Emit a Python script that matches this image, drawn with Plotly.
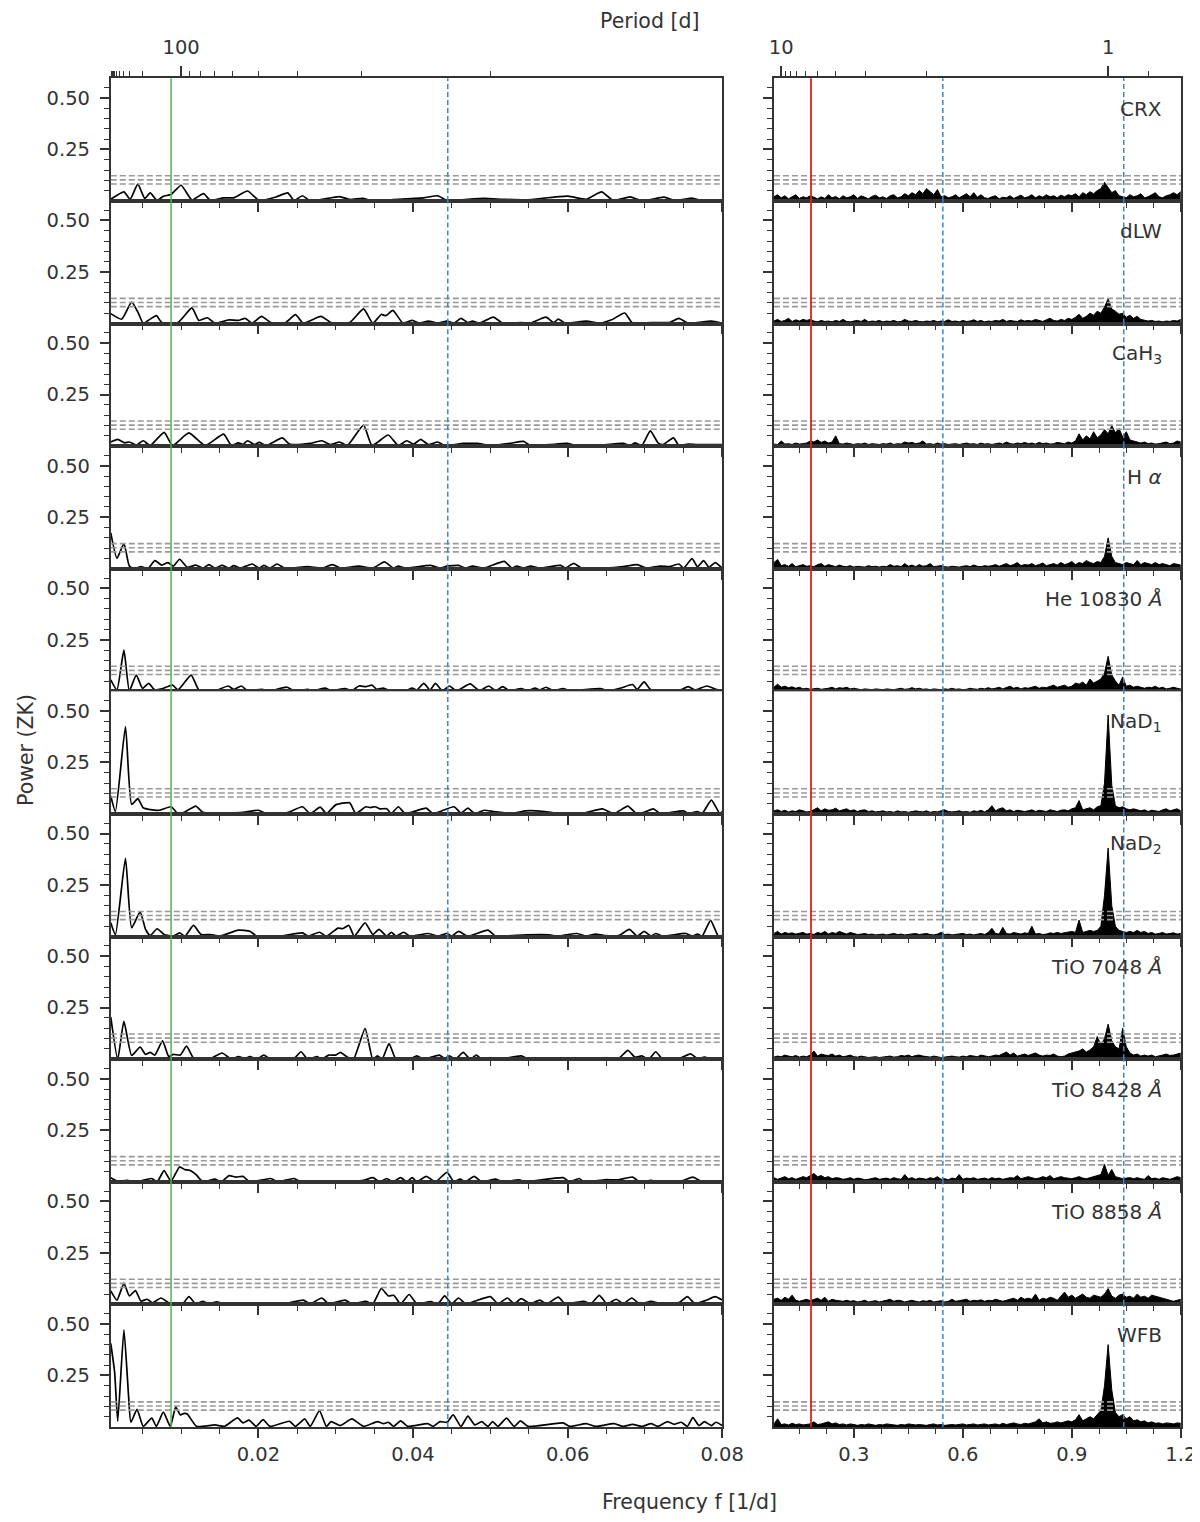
import numpy as np
import plotly.graph_objects as go

# ---------------- text / reference values ----------------
panel_labels = ["CRX", "dLW", "CaH<sub>3</sub>", "H <i>α</i>", "He 10830 <i>Å</i>",
                "NaD<sub>1</sub>", "NaD<sub>2</sub>", "TiO 7048 <i>Å</i>",
                "TiO 8428 <i>Å</i>", "TiO 8858 <i>Å</i>", "WFB"]
fap_levels = [0.082, 0.102, 0.122]
f_green = 0.0087
f_blue_left = 0.0445
f_red = 0.182
f_blue_right = [0.545, 1.043]
period_major_left = [100]
period_minor_left = [1000, 900, 800, 700, 600, 500, 400, 300, 200, 90, 80, 70, 60, 50, 40, 30, 20]
period_major_right = [10, 1]
period_minor_right = [9, 8, 7, 6, 5, 4, 3, 2, 0.9]

# ---------------- left column (long periods) ----------------
crx_f = [0.0009, 0.0026, 0.0034, 0.0044, 0.0053, 0.0060, 0.0069, 0.0077, 0.0087, 0.0100,
         0.0114, 0.0129, 0.0138, 0.0155, 0.0168, 0.0186, 0.0201, 0.0222, 0.0238, 0.0246,
         0.0257, 0.0267, 0.0305, 0.0318, 0.0335, 0.0348, 0.0390, 0.0414, 0.0432, 0.0444,
         0.0462, 0.0492, 0.0516, 0.0546, 0.0600, 0.0624, 0.0644, 0.0659, 0.0681, 0.0696,
         0.0725, 0.0738, 0.0762, 0.0774, 0.0800]
crx_p = [0.008, 0.044, 0.008, 0.081, 0.012, 0.039, 0.002, 0.023, 0.031, 0.076,
         0.005, 0.035, 0.002, 0.015, 0.015, 0.048, 0.002, 0.018, 0.039, 0.002,
         0.025, 0.000, 0.021, 0.007, 0.012, 0.000, 0.010, 0.015, 0.025, 0.002,
         0.005, 0.012, 0.008, 0.005, 0.023, 0.008, 0.044, 0.002, 0.020, 0.000,
         0.018, 0.002, 0.013, 0.000, 0.002]

dlw_f = [0.0009, 0.0023, 0.0036, 0.0045, 0.0051, 0.0068, 0.0075, 0.0096, 0.0114, 0.0123,
         0.0134, 0.0144, 0.0162, 0.0174, 0.0183, 0.0192, 0.0204, 0.0216, 0.0234, 0.0248,
         0.0258, 0.0281, 0.0294, 0.0318, 0.0336, 0.0348, 0.0359, 0.0365, 0.0374, 0.0387,
         0.0399, 0.0408, 0.0420, 0.0432, 0.0444, 0.0453, 0.0462, 0.0471, 0.0477, 0.0486,
         0.0504, 0.0516, 0.0540, 0.0552, 0.0572, 0.0582, 0.0588, 0.0597, 0.0624, 0.0642,
         0.0657, 0.0674, 0.0684, 0.0708, 0.0732, 0.0744, 0.0756, 0.0786, 0.0800]
dlw_p = [0.048, 0.021, 0.104, 0.048, 0.002, 0.038, 0.005, 0.005, 0.076, 0.015,
         0.028, 0.002, 0.018, 0.015, 0.025, 0.002, 0.035, 0.005, 0.002, 0.043,
         0.002, 0.035, 0.005, 0.005, 0.071, 0.002, 0.044, 0.038, 0.064, 0.002,
         0.015, 0.002, 0.012, 0.002, 0.012, 0.002, 0.025, 0.005, 0.012, 0.002,
         0.031, 0.002, 0.005, 0.002, 0.031, 0.005, 0.021, 0.002, 0.012, 0.002,
         0.018, 0.051, 0.002, 0.005, 0.005, 0.025, 0.002, 0.012, 0.002]

cah_f = [0.0009, 0.0018, 0.0027, 0.0033, 0.0042, 0.0051, 0.0060, 0.0078, 0.0089, 0.0110,
         0.0131, 0.0155, 0.0165, 0.0174, 0.0180, 0.0186, 0.0195, 0.0201, 0.0210, 0.0231,
         0.0240, 0.0252, 0.0267, 0.0282, 0.0293, 0.0305, 0.0315, 0.0336, 0.0347, 0.0368,
         0.0381, 0.0392, 0.0401, 0.0410, 0.0420, 0.0432, 0.0441, 0.0465, 0.0483, 0.0501,
         0.0525, 0.0543, 0.0552, 0.0576, 0.0599, 0.0612, 0.0640, 0.0672, 0.0681, 0.0687,
         0.0696, 0.0707, 0.0717, 0.0723, 0.0737, 0.0744, 0.0756, 0.0768, 0.0800]
cah_p = [0.020, 0.033, 0.016, 0.020, 0.005, 0.026, 0.003, 0.067, 0.003, 0.064,
         0.003, 0.058, 0.003, 0.016, 0.008, 0.026, 0.007, 0.018, 0.003, 0.040,
         0.010, 0.007, 0.013, 0.026, 0.007, 0.020, 0.003, 0.102, 0.003, 0.054,
         0.003, 0.026, 0.010, 0.033, 0.007, 0.020, 0.003, 0.013, 0.013, 0.003,
         0.013, 0.023, 0.003, 0.007, 0.013, 0.002, 0.004, 0.013, 0.003, 0.016,
         0.003, 0.074, 0.016, 0.007, 0.040, 0.003, 0.010, 0.007, 0.008]

ha_f = [0.0009, 0.0017, 0.0026, 0.0033, 0.0039, 0.0048, 0.0057, 0.0066, 0.0075, 0.0083,
        0.0090, 0.0098, 0.0108, 0.0119, 0.0128, 0.0136, 0.0144, 0.0153, 0.0162, 0.0168,
        0.0177, 0.0192, 0.0201, 0.0207, 0.0215, 0.0224, 0.0234, 0.0264, 0.0282, 0.0296,
        0.0306, 0.0330, 0.0348, 0.0363, 0.0375, 0.0381, 0.0390, 0.0423, 0.0435, 0.0444,
        0.0459, 0.0468, 0.0477, 0.0492, 0.0518, 0.0528, 0.0534, 0.0543, 0.0552, 0.0564,
        0.0591, 0.0597, 0.0608, 0.0618, 0.0648, 0.0672, 0.0690, 0.0702, 0.0720, 0.0732,
        0.0744, 0.0750, 0.0761, 0.0768, 0.0776, 0.0783, 0.0791, 0.0800]
ha_p = [0.174, 0.051, 0.122, 0.013, 0.000, 0.010, 0.000, 0.039, 0.018, 0.030,
        0.013, 0.046, 0.007, 0.018, 0.003, 0.020, 0.003, 0.016, 0.003, 0.015,
        0.003, 0.023, 0.003, 0.016, 0.003, 0.023, 0.003, 0.010, 0.003, 0.020,
        0.003, 0.013, 0.003, 0.033, 0.003, 0.013, 0.003, 0.016, 0.003, 0.013,
        0.016, 0.003, 0.013, 0.003, 0.036, 0.003, 0.013, 0.003, 0.013, 0.003,
        0.016, 0.003, 0.026, 0.003, 0.003, 0.010, 0.020, 0.003, 0.013, 0.010,
        0.023, 0.003, 0.049, 0.010, 0.039, 0.007, 0.030, 0.003]

he_f = [0.0009, 0.0017, 0.0026, 0.0033, 0.0042, 0.0050, 0.0058, 0.0066, 0.0075, 0.0089,
        0.0096, 0.0113, 0.0123, 0.0144, 0.0161, 0.0168, 0.0178, 0.0186, 0.0204, 0.0216,
        0.0237, 0.0246, 0.0264, 0.0270, 0.0287, 0.0294, 0.0312, 0.0321, 0.0330, 0.0339,
        0.0347, 0.0353, 0.0362, 0.0369, 0.0390, 0.0399, 0.0405, 0.0414, 0.0422, 0.0429,
        0.0438, 0.0447, 0.0456, 0.0474, 0.0486, 0.0498, 0.0507, 0.0516, 0.0525, 0.0540,
        0.0549, 0.0558, 0.0564, 0.0572, 0.0582, 0.0594, 0.0603, 0.0642, 0.0654, 0.0669,
        0.0684, 0.0690, 0.0699, 0.0708, 0.0732, 0.0744, 0.0756, 0.0765, 0.0780, 0.0792,
        0.0800]
he_p = [0.056, 0.007, 0.200, 0.003, 0.079, 0.015, 0.039, 0.007, 0.012, 0.030,
        0.007, 0.079, 0.007, 0.003, 0.026, 0.010, 0.026, 0.003, 0.010, 0.003,
        0.020, 0.003, 0.010, 0.003, 0.016, 0.003, 0.013, 0.003, 0.026, 0.023,
        0.030, 0.010, 0.016, 0.003, 0.003, 0.016, 0.007, 0.039, 0.007, 0.039,
        0.003, 0.026, 0.003, 0.036, 0.003, 0.026, 0.003, 0.023, 0.003, 0.013,
        0.003, 0.016, 0.007, 0.020, 0.003, 0.013, 0.003, 0.013, 0.003, 0.016,
        0.033, 0.010, 0.046, 0.007, 0.007, 0.003, 0.023, 0.007, 0.026, 0.010,
        0.003]

nad1_f = [0.0009, 0.0015, 0.0028, 0.0036, 0.0044, 0.0051, 0.0060, 0.0072, 0.0087, 0.0095,
          0.0104, 0.0119, 0.0128, 0.0144, 0.0162, 0.0180, 0.0200, 0.0210, 0.0228, 0.0239,
          0.0257, 0.0267, 0.0280, 0.0288, 0.0300, 0.0318, 0.0326, 0.0339, 0.0345, 0.0351,
          0.0357, 0.0366, 0.0372, 0.0381, 0.0390, 0.0417, 0.0426, 0.0453, 0.0462, 0.0471,
          0.0480, 0.0492, 0.0504, 0.0528, 0.0546, 0.0570, 0.0588, 0.0618, 0.0645, 0.0660,
          0.0678, 0.0689, 0.0699, 0.0711, 0.0720, 0.0750, 0.0756, 0.0768, 0.0774, 0.0786,
          0.0797, 0.0800]
nad1_p = [0.087, 0.012, 0.424, 0.046, 0.074, 0.030, 0.021, 0.018, 0.035, 0.005,
          0.008, 0.038, 0.008, 0.005, 0.005, 0.008, 0.018, 0.002, 0.002, 0.008,
          0.035, 0.002, 0.033, 0.002, 0.044, 0.054, 0.002, 0.035, 0.031, 0.035,
          0.025, 0.025, 0.002, 0.035, 0.002, 0.028, 0.002, 0.035, 0.005, 0.028,
          0.002, 0.018, 0.012, 0.002, 0.015, 0.012, 0.002, 0.002, 0.025, 0.002,
          0.038, 0.002, 0.008, 0.025, 0.002, 0.015, 0.002, 0.012, 0.002, 0.067,
          0.002, 0.012]

nad2_f = [0.0009, 0.0015, 0.0028, 0.0036, 0.0047, 0.0054, 0.0060, 0.0069, 0.0078, 0.0090,
          0.0098, 0.0105, 0.0116, 0.0126, 0.0138, 0.0150, 0.0174, 0.0189, 0.0198, 0.0228,
          0.0257, 0.0264, 0.0279, 0.0288, 0.0303, 0.0309, 0.0317, 0.0324, 0.0338, 0.0348,
          0.0356, 0.0366, 0.0372, 0.0378, 0.0388, 0.0396, 0.0420, 0.0432, 0.0444, 0.0450,
          0.0459, 0.0471, 0.0497, 0.0507, 0.0528, 0.0546, 0.0576, 0.0588, 0.0612, 0.0624,
          0.0636, 0.0648, 0.0666, 0.0680, 0.0690, 0.0699, 0.0708, 0.0714, 0.0723, 0.0753,
          0.0762, 0.0768, 0.0774, 0.0785, 0.0795, 0.0800]
nad2_p = [0.067, 0.010, 0.380, 0.043, 0.120, 0.035, 0.005, 0.038, 0.010, 0.002,
          0.018, 0.002, 0.054, 0.010, 0.010, 0.002, 0.031, 0.026, 0.002, 0.002,
          0.018, 0.002, 0.021, 0.002, 0.041, 0.038, 0.054, 0.002, 0.067, 0.010,
          0.035, 0.002, 0.021, 0.002, 0.021, 0.002, 0.015, 0.002, 0.015, 0.002,
          0.025, 0.002, 0.031, 0.002, 0.005, 0.008, 0.008, 0.002, 0.015, 0.002,
          0.012, 0.005, 0.005, 0.035, 0.002, 0.025, 0.002, 0.015, 0.002, 0.015,
          0.002, 0.012, 0.002, 0.079, 0.002, 0.005]

tio70_f = [0.0009, 0.0018, 0.0026, 0.0036, 0.0047, 0.0054, 0.0060, 0.0066, 0.0076, 0.0084,
           0.0090, 0.0099, 0.0107, 0.0117, 0.0138, 0.0153, 0.0165, 0.0174, 0.0183, 0.0189,
           0.0198, 0.0207, 0.0216, 0.0246, 0.0255, 0.0264, 0.0276, 0.0282, 0.0291, 0.0300,
           0.0306, 0.0315, 0.0323, 0.0338, 0.0348, 0.0354, 0.0360, 0.0369, 0.0378, 0.0396,
           0.0405, 0.0414, 0.0434, 0.0441, 0.0447, 0.0455, 0.0465, 0.0474, 0.0482, 0.0489,
           0.0516, 0.0540, 0.0549, 0.0573, 0.0588, 0.0648, 0.0666, 0.0678, 0.0687, 0.0696,
           0.0705, 0.0714, 0.0723, 0.0744, 0.0759, 0.0768, 0.0777, 0.0786, 0.0800]
tio70_p = [0.204, 0.000, 0.183, 0.018, 0.059, 0.023, 0.033, 0.020, 0.089, 0.013,
           0.023, 0.020, 0.063, 0.000, 0.003, 0.030, 0.000, 0.013, 0.003, 0.013,
           0.000, 0.020, 0.000, 0.003, 0.036, 0.000, 0.013, 0.000, 0.020, 0.020,
           0.033, 0.010, 0.000, 0.148, 0.000, 0.016, 0.000, 0.076, 0.000, 0.000,
           0.016, 0.000, 0.020, 0.003, 0.016, 0.000, 0.033, 0.000, 0.020, 0.000,
           0.003, 0.016, 0.000, 0.003, 0.000, 0.000, 0.003, 0.043, 0.010, 0.016,
           0.000, 0.036, 0.000, 0.003, 0.026, 0.003, 0.010, 0.000, 0.003]

tio84_f = [0.0009, 0.0018, 0.0030, 0.0042, 0.0062, 0.0069, 0.0078, 0.0087, 0.0098, 0.0105,
           0.0111, 0.0119, 0.0128, 0.0144, 0.0152, 0.0162, 0.0171, 0.0180, 0.0189, 0.0216,
           0.0225, 0.0246, 0.0255, 0.0288, 0.0336, 0.0348, 0.0357, 0.0366, 0.0374, 0.0384,
           0.0392, 0.0399, 0.0405, 0.0417, 0.0429, 0.0444, 0.0453, 0.0461, 0.0468, 0.0479,
           0.0489, 0.0507, 0.0516, 0.0537, 0.0546, 0.0594, 0.0603, 0.0615, 0.0621, 0.0648,
           0.0666, 0.0684, 0.0693, 0.0708, 0.0717, 0.0747, 0.0762, 0.0774, 0.0800]
tio84_p = [0.020, 0.003, 0.007, 0.000, 0.016, 0.000, 0.054, 0.003, 0.072, 0.059,
           0.056, 0.036, 0.000, 0.013, 0.000, 0.030, 0.023, 0.026, 0.000, 0.016,
           0.000, 0.016, 0.000, 0.000, 0.007, 0.020, 0.000, 0.016, 0.000, 0.020,
           0.000, 0.020, 0.000, 0.026, 0.000, 0.046, 0.000, 0.013, 0.000, 0.026,
           0.000, 0.013, 0.000, 0.010, 0.000, 0.020, 0.000, 0.016, 0.000, 0.010,
           0.010, 0.023, 0.000, 0.007, 0.000, 0.003, 0.023, 0.000, 0.000]

tio88_f = [0.0009, 0.0017, 0.0026, 0.0033, 0.0041, 0.0048, 0.0056, 0.0063, 0.0074, 0.0084,
           0.0102, 0.0110, 0.0119, 0.0128, 0.0135, 0.0146, 0.0156, 0.0192, 0.0210, 0.0234,
           0.0258, 0.0267, 0.0282, 0.0291, 0.0312, 0.0321, 0.0339, 0.0348, 0.0359, 0.0368,
           0.0375, 0.0384, 0.0395, 0.0405, 0.0423, 0.0432, 0.0441, 0.0450, 0.0459, 0.0468,
           0.0500, 0.0510, 0.0522, 0.0531, 0.0540, 0.0552, 0.0564, 0.0573, 0.0588, 0.0597,
           0.0621, 0.0630, 0.0641, 0.0651, 0.0663, 0.0672, 0.0683, 0.0693, 0.0708, 0.0720,
           0.0735, 0.0745, 0.0755, 0.0765, 0.0780, 0.0791, 0.0800]
tio88_p = [0.066, 0.021, 0.102, 0.041, 0.067, 0.016, 0.025, 0.008, 0.031, 0.008,
           0.003, 0.038, 0.003, 0.015, 0.003, 0.012, 0.003, 0.008, 0.003, 0.003,
           0.021, 0.003, 0.031, 0.003, 0.021, 0.003, 0.015, 0.003, 0.077, 0.041,
           0.044, 0.003, 0.048, 0.003, 0.013, 0.003, 0.041, 0.003, 0.031, 0.003,
           0.038, 0.003, 0.031, 0.003, 0.028, 0.003, 0.021, 0.003, 0.035, 0.003,
           0.015, 0.003, 0.044, 0.003, 0.025, 0.003, 0.031, 0.003, 0.015, 0.003,
           0.003, 0.010, 0.038, 0.003, 0.021, 0.038, 0.021]

wfb_f = [0.0009, 0.0014, 0.0018, 0.0026, 0.0032, 0.0035, 0.0043, 0.0051, 0.0062, 0.0068,
         0.0077, 0.0086, 0.0093, 0.0099, 0.0104, 0.0108, 0.0120, 0.0144, 0.0156, 0.0173,
         0.0180, 0.0188, 0.0197, 0.0206, 0.0215, 0.0240, 0.0248, 0.0260, 0.0267, 0.0279,
         0.0288, 0.0294, 0.0306, 0.0321, 0.0336, 0.0354, 0.0362, 0.0368, 0.0375, 0.0384,
         0.0393, 0.0419, 0.0426, 0.0435, 0.0444, 0.0452, 0.0462, 0.0471, 0.0480, 0.0489,
         0.0497, 0.0503, 0.0510, 0.0521, 0.0531, 0.0539, 0.0549, 0.0594, 0.0603, 0.0624,
         0.0636, 0.0660, 0.0672, 0.0684, 0.0696, 0.0708, 0.0717, 0.0729, 0.0738, 0.0747,
         0.0755, 0.0762, 0.0770, 0.0777, 0.0786, 0.0792, 0.0800]
wfb_p = [0.406, 0.266, 0.028, 0.472, 0.151, 0.023, 0.086, 0.003, 0.043, 0.003,
         0.072, 0.003, 0.097, 0.059, 0.066, 0.063, 0.003, 0.010, 0.003, 0.044,
         0.020, 0.033, 0.003, 0.036, 0.003, 0.028, 0.003, 0.039, 0.003, 0.079,
         0.003, 0.026, 0.007, 0.039, 0.003, 0.026, 0.016, 0.023, 0.003, 0.030,
         0.003, 0.016, 0.003, 0.026, 0.023, 0.059, 0.003, 0.053, 0.010, 0.026,
         0.003, 0.026, 0.003, 0.043, 0.003, 0.030, 0.003, 0.020, 0.003, 0.016,
         0.003, 0.016, 0.003, 0.013, 0.003, 0.016, 0.003, 0.026, 0.013, 0.023,
         0.003, 0.046, 0.007, 0.026, 0.007, 0.023, 0.007]

# ---------------- right column (short periods), grid 0.08 ... 1.20 step 0.01 ----------------
f_right = np.round(np.arange(0.08, 1.2001, 0.01), 2)

crx_r = [0.020, 0.030, 0.015, 0.025, 0.010, 0.020, 0.030, 0.012, 0.020, 0.015,
         0.025, 0.018, 0.010, 0.020, 0.012, 0.030, 0.015, 0.022, 0.010, 0.025,
         0.015, 0.020, 0.030, 0.012, 0.025, 0.018, 0.010, 0.022, 0.028, 0.015,
         0.020, 0.012, 0.025, 0.030, 0.015, 0.020, 0.035, 0.025, 0.040, 0.030,
         0.050, 0.035, 0.060, 0.045, 0.030, 0.055, 0.020, 0.025, 0.015, 0.020,
         0.030, 0.015, 0.025, 0.035, 0.020, 0.040, 0.018, 0.030, 0.015, 0.012,
         0.020, 0.025, 0.010, 0.018, 0.015, 0.025, 0.012, 0.020, 0.028, 0.015,
         0.020, 0.030, 0.015, 0.025, 0.018, 0.030, 0.020, 0.025, 0.015, 0.028,
         0.020, 0.030, 0.025, 0.035, 0.020, 0.040, 0.030, 0.045, 0.035, 0.050,
         0.060, 0.090, 0.065, 0.040, 0.050, 0.025, 0.020, 0.015, 0.030, 0.020,
         0.025, 0.035, 0.015, 0.020, 0.030, 0.040, 0.020, 0.015, 0.025, 0.030,
         0.040, 0.030, 0.045]
dlw_r = [0.012, 0.020, 0.010, 0.015, 0.025, 0.010, 0.018, 0.012, 0.020, 0.015,
         0.020, 0.012, 0.008, 0.015, 0.010, 0.012, 0.008, 0.015, 0.010, 0.020,
         0.010, 0.008, 0.012, 0.015, 0.010, 0.020, 0.008, 0.012, 0.010, 0.015,
         0.008, 0.012, 0.010, 0.015, 0.008, 0.010, 0.020, 0.012, 0.010, 0.015,
         0.010, 0.008, 0.012, 0.010, 0.015, 0.008, 0.012, 0.010, 0.018, 0.010,
         0.012, 0.008, 0.015, 0.010, 0.012, 0.018, 0.010, 0.015, 0.008, 0.012,
         0.010, 0.015, 0.012, 0.020, 0.010, 0.015, 0.012, 0.010, 0.018, 0.012,
         0.015, 0.012, 0.020, 0.015, 0.010, 0.018, 0.025, 0.015, 0.012, 0.020,
         0.015, 0.025, 0.020, 0.030, 0.045, 0.025, 0.035, 0.050, 0.040, 0.060,
         0.050, 0.080, 0.120, 0.070, 0.060, 0.045, 0.050, 0.030, 0.040, 0.025,
         0.035, 0.020, 0.015, 0.012, 0.015, 0.010, 0.012, 0.008, 0.012, 0.010,
         0.015, 0.012, 0.020]
cah_r = [0.010, 0.008, 0.025, 0.010, 0.012, 0.008, 0.015, 0.010, 0.012, 0.015,
         0.025, 0.020, 0.030, 0.018, 0.025, 0.015, 0.020, 0.050, 0.012, 0.010,
         0.015, 0.010, 0.008, 0.012, 0.010, 0.015, 0.008, 0.012, 0.010, 0.008,
         0.012, 0.010, 0.015, 0.008, 0.012, 0.010, 0.020, 0.015, 0.018, 0.012,
         0.015, 0.025, 0.010, 0.012, 0.008, 0.015, 0.010, 0.012, 0.008, 0.010,
         0.012, 0.008, 0.010, 0.015, 0.010, 0.012, 0.008, 0.015, 0.010, 0.012,
         0.008, 0.012, 0.015, 0.010, 0.020, 0.012, 0.010, 0.015, 0.012, 0.018,
         0.012, 0.015, 0.010, 0.018, 0.012, 0.015, 0.010, 0.012, 0.018, 0.015,
         0.012, 0.020, 0.015, 0.025, 0.060, 0.030, 0.050, 0.035, 0.070, 0.040,
         0.055, 0.080, 0.060, 0.100, 0.065, 0.085, 0.045, 0.070, 0.030, 0.025,
         0.020, 0.015, 0.020, 0.012, 0.015, 0.010, 0.012, 0.015, 0.020, 0.012,
         0.015, 0.025, 0.020]
ha_r = [0.030, 0.045, 0.015, 0.020, 0.012, 0.025, 0.010, 0.015, 0.020, 0.012,
        0.015, 0.010, 0.020, 0.025, 0.012, 0.020, 0.015, 0.010, 0.018, 0.012,
        0.010, 0.015, 0.008, 0.012, 0.010, 0.008, 0.015, 0.010, 0.012, 0.008,
        0.012, 0.010, 0.020, 0.012, 0.015, 0.010, 0.025, 0.012, 0.018, 0.010,
        0.020, 0.012, 0.015, 0.025, 0.010, 0.012, 0.015, 0.010, 0.008, 0.012,
        0.010, 0.008, 0.012, 0.015, 0.010, 0.018, 0.012, 0.010, 0.015, 0.012,
        0.015, 0.020, 0.012, 0.018, 0.025, 0.015, 0.020, 0.030, 0.015, 0.020,
        0.018, 0.025, 0.015, 0.020, 0.028, 0.015, 0.020, 0.025, 0.018, 0.030,
        0.020, 0.025, 0.035, 0.020, 0.030, 0.025, 0.040, 0.030, 0.025, 0.035,
        0.030, 0.060, 0.150, 0.060, 0.030, 0.025, 0.020, 0.030, 0.025, 0.020,
        0.040, 0.020, 0.030, 0.025, 0.020, 0.030, 0.020, 0.025, 0.020, 0.015,
        0.025, 0.020, 0.018]
he_r = [0.020, 0.035, 0.020, 0.025, 0.018, 0.022, 0.015, 0.020, 0.012, 0.015,
        0.010, 0.012, 0.015, 0.010, 0.012, 0.015, 0.020, 0.012, 0.018, 0.015,
        0.020, 0.012, 0.015, 0.010, 0.008, 0.012, 0.010, 0.008, 0.012, 0.010,
        0.008, 0.012, 0.010, 0.008, 0.012, 0.015, 0.010, 0.012, 0.018, 0.012,
        0.015, 0.010, 0.012, 0.008, 0.012, 0.010, 0.008, 0.012, 0.010, 0.015,
        0.010, 0.012, 0.008, 0.010, 0.015, 0.012, 0.010, 0.015, 0.012, 0.018,
        0.012, 0.015, 0.020, 0.012, 0.018, 0.025, 0.015, 0.020, 0.012, 0.018,
        0.015, 0.020, 0.025, 0.015, 0.020, 0.018, 0.025, 0.030, 0.020, 0.025,
        0.030, 0.020, 0.025, 0.040, 0.035, 0.045, 0.030, 0.060, 0.040, 0.050,
        0.060, 0.090, 0.170, 0.080, 0.050, 0.030, 0.070, 0.025, 0.030, 0.020,
        0.025, 0.020, 0.015, 0.020, 0.018, 0.025, 0.015, 0.020, 0.012, 0.015,
        0.020, 0.015, 0.012]
nad1_r = [0.015, 0.020, 0.012, 0.018, 0.010, 0.015, 0.012, 0.020, 0.015, 0.010,
          0.012, 0.020, 0.030, 0.015, 0.025, 0.018, 0.020, 0.028, 0.015, 0.020,
          0.025, 0.015, 0.020, 0.012, 0.018, 0.020, 0.012, 0.015, 0.010, 0.012,
          0.015, 0.010, 0.012, 0.008, 0.015, 0.010, 0.012, 0.008, 0.010, 0.015,
          0.012, 0.010, 0.015, 0.008, 0.012, 0.010, 0.015, 0.020, 0.012, 0.010,
          0.012, 0.015, 0.010, 0.012, 0.008, 0.015, 0.012, 0.018, 0.010, 0.020,
          0.040, 0.015, 0.025, 0.030, 0.015, 0.020, 0.012, 0.018, 0.015, 0.012,
          0.015, 0.020, 0.012, 0.018, 0.015, 0.012, 0.020, 0.015, 0.012, 0.018,
          0.020, 0.015, 0.025, 0.030, 0.065, 0.020, 0.025, 0.030, 0.020, 0.035,
          0.040, 0.150, 0.480, 0.140, 0.040, 0.030, 0.035, 0.025, 0.020, 0.025,
          0.020, 0.015, 0.020, 0.012, 0.018, 0.015, 0.012, 0.020, 0.025, 0.015,
          0.020, 0.025, 0.015]
nad2_r = [0.015, 0.025, 0.012, 0.020, 0.015, 0.018, 0.012, 0.015, 0.020, 0.012,
          0.015, 0.010, 0.020, 0.015, 0.025, 0.012, 0.020, 0.015, 0.025, 0.018,
          0.012, 0.020, 0.015, 0.010, 0.012, 0.015, 0.010, 0.012, 0.008, 0.010,
          0.012, 0.008, 0.010, 0.015, 0.010, 0.012, 0.008, 0.010, 0.012, 0.015,
          0.010, 0.012, 0.015, 0.010, 0.008, 0.012, 0.020, 0.010, 0.012, 0.008,
          0.010, 0.012, 0.015, 0.010, 0.012, 0.008, 0.012, 0.015, 0.010, 0.020,
          0.040, 0.015, 0.012, 0.045, 0.015, 0.012, 0.020, 0.015, 0.012, 0.018,
          0.015, 0.050, 0.012, 0.015, 0.010, 0.012, 0.018, 0.015, 0.020, 0.015,
          0.018, 0.020, 0.025, 0.020, 0.080, 0.020, 0.025, 0.030, 0.025, 0.030,
          0.050, 0.200, 0.430, 0.150, 0.050, 0.030, 0.025, 0.020, 0.025, 0.020,
          0.030, 0.020, 0.025, 0.015, 0.020, 0.012, 0.015, 0.020, 0.012, 0.015,
          0.018, 0.012, 0.015]
tio70_r = [0.010, 0.015, 0.012, 0.020, 0.015, 0.012, 0.018, 0.010, 0.015, 0.012,
           0.020, 0.040, 0.015, 0.025, 0.020, 0.018, 0.025, 0.015, 0.020, 0.012,
           0.015, 0.020, 0.012, 0.010, 0.015, 0.012, 0.008, 0.010, 0.012, 0.008,
           0.010, 0.012, 0.015, 0.010, 0.012, 0.018, 0.015, 0.020, 0.012, 0.018,
           0.020, 0.015, 0.012, 0.010, 0.015, 0.012, 0.008, 0.010, 0.012, 0.015,
           0.012, 0.010, 0.015, 0.012, 0.018, 0.015, 0.012, 0.020, 0.015, 0.012,
           0.015, 0.020, 0.018, 0.025, 0.035, 0.020, 0.030, 0.015, 0.020, 0.025,
           0.018, 0.025, 0.030, 0.020, 0.015, 0.020, 0.018, 0.025, 0.015, 0.012,
           0.015, 0.025, 0.030, 0.035, 0.040, 0.050, 0.035, 0.045, 0.060, 0.110,
           0.070, 0.100, 0.170, 0.090, 0.060, 0.050, 0.150, 0.060, 0.030, 0.020,
           0.025, 0.015, 0.020, 0.015, 0.020, 0.012, 0.015, 0.020, 0.025, 0.018,
           0.020, 0.025, 0.030]
tio84_r = [0.020, 0.012, 0.018, 0.025, 0.015, 0.020, 0.012, 0.018, 0.025, 0.020,
           0.030, 0.040, 0.025, 0.030, 0.020, 0.025, 0.015, 0.020, 0.018, 0.012,
           0.015, 0.020, 0.012, 0.018, 0.015, 0.010, 0.012, 0.015, 0.020, 0.012,
           0.015, 0.018, 0.012, 0.020, 0.015, 0.012, 0.035, 0.015, 0.020, 0.012,
           0.018, 0.015, 0.012, 0.020, 0.015, 0.025, 0.012, 0.015, 0.010, 0.018,
           0.015, 0.035, 0.012, 0.018, 0.015, 0.020, 0.012, 0.015, 0.018, 0.012,
           0.020, 0.015, 0.018, 0.012, 0.015, 0.020, 0.018, 0.030, 0.015, 0.020,
           0.025, 0.020, 0.015, 0.018, 0.025, 0.020, 0.030, 0.015, 0.020, 0.025,
           0.020, 0.018, 0.015, 0.020, 0.025, 0.018, 0.015, 0.020, 0.025, 0.030,
           0.035, 0.085, 0.030, 0.060, 0.025, 0.020, 0.015, 0.018, 0.020, 0.015,
           0.020, 0.015, 0.012, 0.030, 0.015, 0.018, 0.012, 0.020, 0.015, 0.012,
           0.018, 0.025, 0.020]
tio88_r = [0.025, 0.030, 0.020, 0.035, 0.025, 0.045, 0.020, 0.015, 0.020, 0.025,
           0.018, 0.025, 0.030, 0.020, 0.035, 0.015, 0.025, 0.020, 0.018, 0.015,
           0.020, 0.015, 0.018, 0.012, 0.015, 0.020, 0.012, 0.015, 0.018, 0.012,
           0.015, 0.020, 0.025, 0.015, 0.020, 0.018, 0.012, 0.015, 0.020, 0.015,
           0.012, 0.018, 0.015, 0.020, 0.012, 0.015, 0.018, 0.012, 0.015, 0.025,
           0.015, 0.018, 0.020, 0.025, 0.015, 0.020, 0.018, 0.022, 0.015, 0.020,
           0.018, 0.025, 0.020, 0.015, 0.020, 0.025, 0.030, 0.020, 0.035, 0.025,
           0.030, 0.025, 0.050, 0.020, 0.030, 0.025, 0.035, 0.030, 0.020, 0.040,
           0.060, 0.035, 0.045, 0.030, 0.040, 0.050, 0.035, 0.030, 0.045, 0.040,
           0.035, 0.050, 0.077, 0.040, 0.030, 0.045, 0.050, 0.035, 0.040, 0.030,
           0.050, 0.035, 0.040, 0.030, 0.045, 0.040, 0.035, 0.030, 0.025, 0.020,
           0.015, 0.020, 0.025]
wfb_r = [0.015, 0.040, 0.012, 0.015, 0.010, 0.018, 0.012, 0.015, 0.010, 0.012,
         0.015, 0.025, 0.012, 0.015, 0.020, 0.025, 0.015, 0.020, 0.012, 0.015,
         0.010, 0.015, 0.012, 0.008, 0.012, 0.010, 0.015, 0.010, 0.008, 0.012,
         0.010, 0.015, 0.012, 0.010, 0.008, 0.012, 0.010, 0.015, 0.012, 0.010,
         0.012, 0.010, 0.008, 0.012, 0.015, 0.010, 0.012, 0.008, 0.010, 0.012,
         0.010, 0.012, 0.015, 0.010, 0.012, 0.015, 0.010, 0.012, 0.015, 0.010,
         0.012, 0.015, 0.010, 0.018, 0.012, 0.015, 0.020, 0.015, 0.012, 0.018,
         0.015, 0.020, 0.025, 0.040, 0.020, 0.025, 0.018, 0.020, 0.025, 0.020,
         0.025, 0.030, 0.025, 0.035, 0.060, 0.030, 0.040, 0.050, 0.040, 0.060,
         0.080, 0.200, 0.400, 0.180, 0.070, 0.050, 0.060, 0.040, 0.050, 0.030,
         0.035, 0.025, 0.030, 0.020, 0.025, 0.018, 0.020, 0.015, 0.020, 0.018,
         0.015, 0.020, 0.018]

left_f = [crx_f, dlw_f, cah_f, ha_f, he_f, nad1_f, nad2_f, tio70_f, tio84_f, tio88_f, wfb_f]
left_p = [crx_p, dlw_p, cah_p, ha_p, he_p, nad1_p, nad2_p, tio70_p, tio84_p, tio88_p, wfb_p]
right_p = [crx_r, dlw_r, cah_r, ha_r, he_r, nad1_r, nad2_r, tio70_r, tio84_r, tio88_r, wfb_r]

# ---------------- styling / geometry (figure pixels) ----------------
W, H = 1212, 1506
FONT = "DejaVu Sans"
TXT = "#333333"
AXC = "#333333"
L_X0, L_X1 = 100.0, 725.5
R_X0, R_X1 = 778.3, 1194.5
TOP = 70.3
ROW_H = 122.61
xr_left = [0.0009, 0.08002]
xr_right = [0.08, 1.2003]
yr = [0.0, 0.595]
GREEN = "#4cb84c"
BLUE = "#3a86c8"
RED = "#e3201b"
GRAY = "#999999"
TICK_FS = 19.5

fig = go.Figure()
layout = {}
shapes = []
annotations = []

def ax_names(n):
    if n == 1:
        return "xaxis", "yaxis", "x", "y"
    return f"xaxis{n}", f"yaxis{n}", f"x{n}", f"y{n}"

for r in range(11):
    top = TOP + r * ROW_H
    bot = top + ROW_H
    ydom = [1 - bot / H, 1 - top / H]
    for c in range(2):
        n = r * 2 + c + 1
        xa, ya, xr_, yr_ = ax_names(n)
        if c == 0:
            xdom = [L_X0 / W, L_X1 / W]
            xrange_ = xr_left
            dtick, mdt, fmt = 0.02, 0.005, ".2f"
        else:
            xdom = [R_X0 / W, R_X1 / W]
            xrange_ = xr_right
            dtick, mdt, fmt = 0.3, 0.075, ".1f"
        layout[xa] = dict(
            domain=xdom, range=xrange_, anchor=yr_, showline=True, linecolor=AXC,
            linewidth=1.8, mirror=True, ticks="outside", ticklen=9, tickwidth=1.5,
            tickcolor=AXC, showgrid=False, zeroline=False, tickmode="linear",
            tick0=0, dtick=dtick, tickformat=fmt, showticklabels=(r == 10),
            tickfont=dict(family=FONT, size=TICK_FS, color=TXT),
            minor=dict(ticks="outside", ticklen=5, tickwidth=1.2, tickcolor=AXC,
                       tick0=0, dtick=mdt, showgrid=False),
        )
        layout[ya] = dict(
            domain=ydom, range=yr, anchor=xr_, showline=True, linecolor=AXC,
            linewidth=1.8, mirror=True, ticks="outside", ticklen=9, tickwidth=1.5,
            tickcolor=AXC, showgrid=False, zeroline=False, tickmode="array",
            tickvals=[0.25, 0.5], ticktext=["0.25", "0.50"], showticklabels=(c == 0),
            ticklabelstandoff=6,
            tickfont=dict(family=FONT, size=TICK_FS, color=TXT),
            minor=dict(ticks="outside", ticklen=5, tickwidth=1.2, tickcolor=AXC,
                       tickmode="array",
                       tickvals=[0.05, 0.1, 0.15, 0.2, 0.3, 0.35, 0.4, 0.45, 0.55],
                       showgrid=False),
        )
        if c == 0:
            fig.add_trace(go.Scatter(
                x=left_f[r], y=left_p[r], mode="lines", xaxis=xr_, yaxis=yr_,
                line=dict(color="black", width=1.7, shape="spline", smoothing=0.5),
                showlegend=False, hoverinfo="skip"))
        else:
            fig.add_trace(go.Scatter(
                x=f_right, y=right_p[r], mode="lines", xaxis=xr_, yaxis=yr_,
                line=dict(color="black", width=1), fill="tozeroy", fillcolor="black",
                showlegend=False, hoverinfo="skip"))
        for lv in fap_levels:
            shapes.append(dict(type="line", xref=f"{xr_} domain", yref=yr_,
                               x0=0, x1=1, y0=lv, y1=lv,
                               line=dict(color=GRAY, width=1.6, dash="6px,3px")))
        if c == 0:
            shapes.append(dict(type="line", xref=xr_, yref=f"{yr_} domain",
                               x0=f_green, x1=f_green, y0=0, y1=1,
                               line=dict(color=GREEN, width=1.5)))
            shapes.append(dict(type="line", xref=xr_, yref=f"{yr_} domain",
                               x0=f_blue_left, x1=f_blue_left, y0=0, y1=1,
                               line=dict(color=BLUE, width=1.5, dash="5px,3px")))
        else:
            shapes.append(dict(type="line", xref=xr_, yref=f"{yr_} domain",
                               x0=f_red, x1=f_red, y0=0, y1=1,
                               line=dict(color=RED, width=1.8)))
            for fb in f_blue_right:
                shapes.append(dict(type="line", xref=xr_, yref=f"{yr_} domain",
                                   x0=fb, x1=fb, y0=0, y1=1,
                                   line=dict(color=BLUE, width=1.5, dash="5px,3px")))
            annotations.append(dict(
                text=panel_labels[r], xref="paper", yref="paper",
                x=1177 / W, y=1 - (top + 30.5) / H, xanchor="right", yanchor="middle",
                showarrow=False, font=dict(family=FONT, size=20, color=TXT)))

# top period axes
for n_top, base, base_y, xrange_, pmaj, pmin in [
        (23, "x", "y", xr_left, period_major_left, period_minor_left),
        (24, "x2", "y2", xr_right, period_major_right, period_minor_right)]:
    layout[f"xaxis{n_top}"] = dict(
        overlaying=base, side="top", anchor=base_y, range=xrange_,
        showline=False, showgrid=False, zeroline=False,
        tickmode="array", tickvals=[1.0 / p for p in pmaj],
        ticktext=[f"{p:g}" for p in pmaj],
        ticks="outside", ticklen=11, tickwidth=1.5, tickcolor=AXC,
        ticklabelstandoff=5,
        tickfont=dict(family=FONT, size=TICK_FS, color=TXT),
        minor=dict(ticks="outside", ticklen=6, tickwidth=1.2, tickcolor=AXC,
                   tickmode="array", tickvals=[1.0 / p for p in pmin], showgrid=False),
    )
    fig.add_trace(go.Scatter(x=[1.0 / pmaj[0]], y=[0], xaxis=f"x{n_top}", yaxis=base_y,
                             mode="markers", marker=dict(opacity=0), showlegend=False,
                             hoverinfo="skip"))

annotations += [
    dict(text="Period [d]", xref="paper", yref="paper", x=651 / W, y=1.0,
         xanchor="center", yanchor="top", borderpad=0, showarrow=False,
         font=dict(family=FONT, size=20.5, color=TXT)),
    dict(text="Frequency f [1/d]", xref="paper", yref="paper", x=692 / W, y=1 - 1494 / H,
         xanchor="center", yanchor="middle", showarrow=False,
         font=dict(family=FONT, size=20.5, color=TXT)),
    dict(text="Power (ZK)", xref="paper", yref="paper", x=0.0, y=1 - 742 / H,
         xanchor="left", yanchor="middle", textangle=-90, borderpad=0, showarrow=False,
         font=dict(family=FONT, size=20.5, color=TXT)),
]

fig.update_layout(
    width=W, height=H, margin=dict(l=0, r=0, t=0, b=0),
    paper_bgcolor="white", plot_bgcolor="white",
    shapes=shapes, annotations=annotations, showlegend=False,
    font=dict(family=FONT, color=TXT),
    **layout,
)

fig.write_html("out.html")
